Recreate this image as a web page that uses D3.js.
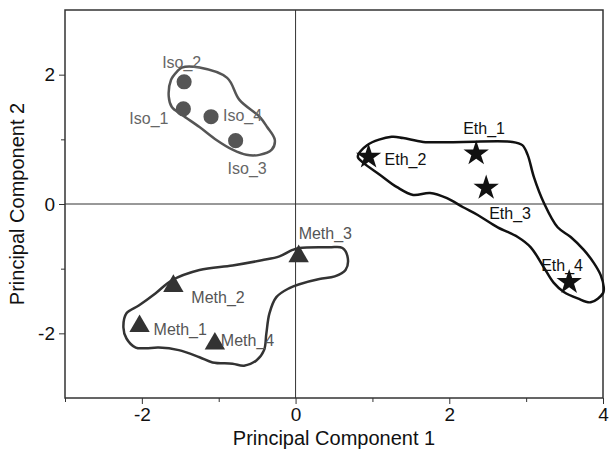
<!DOCTYPE html>
<html>
<head>
<meta charset="utf-8">
<script src="https://cdn.jsdelivr.net/npm/d3@7"></script>
<style>
  body { margin: 0; background: #fff; }
  text { font-family: "Liberation Sans", Arial, sans-serif; }
</style>
</head>
<body>
<div id="chart"></div>
<script>
// sample scores on the first two components
var isoNames = ["Iso_1", "Iso_2", "Iso_3", "Iso_4"];
var isoPC1 = [-1.46, -1.45, -0.78, -1.10];
var isoPC2 = [1.47, 1.89, 0.98, 1.35];

var methNames = ["Meth_1", "Meth_2", "Meth_3", "Meth_4"];
var methPC1 = [-2.03, -1.59, 0.04, -1.05];
var methPC2 = [-1.89, -1.27, -0.81, -2.16];

var ethNames = ["Eth_1", "Eth_2", "Eth_3", "Eth_4"];
var ethPC1 = [2.35, 0.95, 2.48, 3.56];
var ethPC2 = [0.78, 0.73, 0.25, -1.21];

// hand drawn group outlines, [pc1, pc2]
var isoLoop = [[-1.48, 2.11], [-1.25, 2.11], [-0.89, 1.95], [-0.73, 1.61], [-0.47, 1.35], [-0.37, 1.19],
  [-0.27, 0.99], [-0.31, 0.84], [-0.47, 0.76], [-0.64, 0.76], [-0.82, 0.84], [-1.03, 0.99],
  [-1.25, 1.19], [-1.48, 1.38], [-1.61, 1.50], [-1.65, 1.66], [-1.62, 1.92], [-1.54, 2.05]];

var methLoop = [[0.05, -0.68], [0.44, -0.67], [0.61, -0.68], [0.68, -0.84], [0.65, -1.02], [0.51, -1.12],
  [0.31, -1.16], [0.05, -1.24], [-0.08, -1.30], [-0.25, -1.44], [-0.34, -1.69], [-0.38, -2.00],
  [-0.41, -2.26], [-0.51, -2.42], [-0.67, -2.50], [-0.82, -2.47], [-1.08, -2.45], [-1.25, -2.37],
  [-1.52, -2.26], [-1.78, -2.22], [-1.95, -2.23], [-2.08, -2.22], [-2.20, -2.08], [-2.24, -1.91],
  [-2.20, -1.69], [-2.04, -1.57], [-1.82, -1.38], [-1.61, -1.18], [-1.25, -1.02], [-0.82, -0.95],
  [-0.44, -0.87], [-0.21, -0.81], [-0.04, -0.71]];

var ethLoop = [[0.81, 0.73], [0.93, 0.91], [1.25, 1.04], [1.40, 1.02], [1.66, 0.96], [2.18, 0.96],
  [2.82, 0.96], [2.95, 0.91], [3.02, 0.76], [3.10, 0.42], [3.23, 0.02], [3.41, -0.36],
  [3.58, -0.51], [3.75, -0.71], [3.88, -0.91], [3.97, -1.10], [4.01, -1.29], [4.00, -1.38],
  [3.84, -1.52], [3.67, -1.46], [3.49, -1.36], [3.36, -1.22], [3.23, -0.98], [3.06, -0.67],
  [2.89, -0.51], [2.63, -0.36], [2.37, -0.17], [2.18, -0.05], [1.97, 0.09], [1.75, 0.17],
  [1.53, 0.14], [1.32, 0.26], [1.10, 0.45], [0.88, 0.64]];

var xMajor = [-2, 0, 2, 4];
var xMinor = [-3, -1, 1, 3];
var yMajor = [-2, 0, 2];
var yMinor = [-1, 1];

var width = 611, height = 450;
var margin = {left: 65, right: 8, top: 10, bottom: 52};

var svg = d3.select("#chart").append("svg")
  .attr("width", width)
  .attr("height", height);

var x = d3.scaleLinear().domain([-3, 4]).range([margin.left, width - margin.right]);
var y = d3.scaleLinear().domain([-3, 3]).range([height - margin.bottom, margin.top]);

// zero lines
svg.append("line")
  .attr("x1", x(0)).attr("x2", x(0))
  .attr("y1", y(3)).attr("y2", y(-3))
  .attr("stroke", "#333").attr("stroke-width", 1);
svg.append("line")
  .attr("x1", x(-3)).attr("x2", x(4))
  .attr("y1", y(0)).attr("y2", y(0))
  .attr("stroke", "#333").attr("stroke-width", 1);

// axes
svg.append("g")
  .attr("transform", "translate(0," + y(-3) + ")")
  .call(d3.axisBottom(x).tickValues(xMajor).tickSize(6).tickPadding(4).tickFormat(d3.format("d")));
svg.append("g")
  .attr("transform", "translate(0," + y(-3) + ")")
  .call(d3.axisBottom(x).tickValues(xMinor).tickSize(4).tickFormat(""));

svg.append("g")
  .attr("transform", "translate(" + x(-3) + ",0)")
  .call(d3.axisLeft(y).tickValues(yMajor).tickSize(6).tickPadding(4).tickFormat(d3.format("d")));
svg.append("g")
  .attr("transform", "translate(" + x(-3) + ",0)")
  .call(d3.axisLeft(y).tickValues(yMinor).tickSize(4).tickFormat(""));

svg.selectAll(".domain").remove();
svg.selectAll(".tick line").attr("stroke", "#333");
svg.selectAll(".tick text")
  .attr("fill", "#111")
  .style("font-size", "19px")
  .text(function() { return this.textContent.replace("−", "-"); });

// frame
svg.append("rect")
  .attr("x", x(-3)).attr("y", y(3))
  .attr("width", x(4) - x(-3)).attr("height", y(-3) - y(3))
  .attr("fill", "none").attr("stroke", "#333").attr("stroke-width", 1.5);

// axis titles
svg.append("text")
  .attr("x", (x(-3) + x(4)) / 2)
  .attr("y", 445)
  .attr("text-anchor", "middle")
  .style("font-size", "20px")
  .attr("fill", "#111")
  .text("Principal Component 1");

svg.append("text")
  .attr("transform", "translate(24," + ((y(3) + y(-3)) / 2) + ") rotate(-90)")
  .attr("text-anchor", "middle")
  .style("font-size", "20px")
  .attr("fill", "#111")
  .text("Principal Component 2");

// outlines
var loopLine = d3.line()
  .x(function(d) { return x(d[0]); })
  .y(function(d) { return y(d[1]); })
  .curve(d3.curveCatmullRomClosed);

svg.append("path").datum(isoLoop).attr("d", loopLine)
  .attr("fill", "none").attr("stroke", "#555").attr("stroke-width", 2.5);
svg.append("path").datum(methLoop).attr("d", loopLine)
  .attr("fill", "none").attr("stroke", "#333").attr("stroke-width", 2.5);
svg.append("path").datum(ethLoop).attr("d", loopLine)
  .attr("fill", "none").attr("stroke", "#111").attr("stroke-width", 2.5);

function toPoints(names, pc1, pc2) {
  return names.map(function(n, i) { return {name: n, x: pc1[i], y: pc2[i]}; });
}

var isoPts = toPoints(isoNames, isoPC1, isoPC2);
var methPts = toPoints(methNames, methPC1, methPC2);
var ethPts = toPoints(ethNames, ethPC1, ethPC2);

svg.selectAll(".iso").data(isoPts).enter().append("path")
  .attr("d", d3.symbol().type(d3.symbolCircle).size(180))
  .attr("transform", function(d) { return "translate(" + x(d.x) + "," + y(d.y) + ")"; })
  .attr("fill", "#555");

svg.selectAll(".meth").data(methPts).enter().append("path")
  .attr("d", d3.symbol().type(d3.symbolTriangle).size(180))
  .attr("transform", function(d) { return "translate(" + x(d.x) + "," + y(d.y) + ")"; })
  .attr("fill", "#333");

svg.selectAll(".eth").data(ethPts).enter().append("path")
  .attr("d", d3.symbol().type(d3.symbolStar).size(200))
  .attr("transform", function(d) { return "translate(" + x(d.x) + "," + y(d.y) + ")"; })
  .attr("fill", "#111");

// label offsets (px) from each marker
var isoOff = [[-54, 15], [-22, -14], [-8, 33], [12, 4]];
var methOff = [[14, 9], [18, 17], [0, -17], [6, 2]];
var ethOff = [[-13, -20], [16, 8], [3, 31], [-28, -11]];

function addLabels(pts, off, color) {
  svg.selectAll(null).data(pts).enter().append("text")
    .attr("x", function(d, i) { return x(d.x) + off[i][0]; })
    .attr("y", function(d, i) { return y(d.y) + off[i][1]; })
    .style("font-size", "16px")
    .attr("fill", color)
    .text(function(d) { return d.name; });
}
addLabels(isoPts, isoOff, "#666");
addLabels(methPts, methOff, "#555");
addLabels(ethPts, ethOff, "#111");
</script>
</body>
</html>
